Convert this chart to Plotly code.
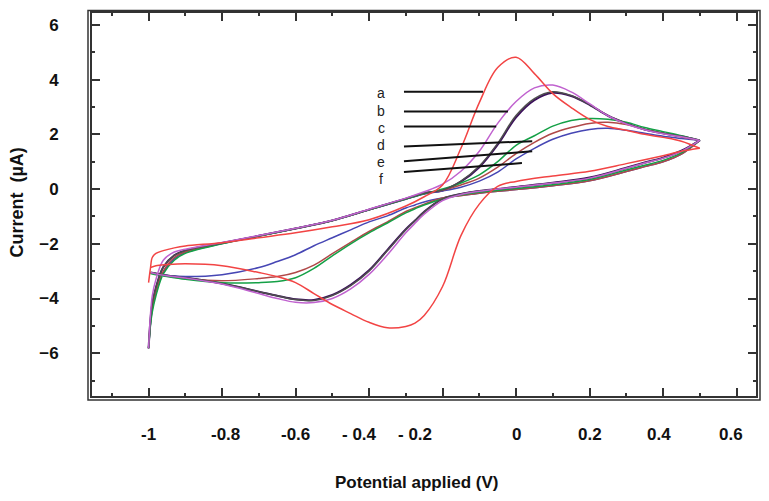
import plotly.graph_objects as go

# Potential grids (V)
potential_fwd = [-1.0, -0.995, -0.99, -0.98, -0.96, -0.93, -0.9, -0.8, -0.7, -0.6, -0.5, -0.4, -0.3,
                 -0.25, -0.2, -0.15, -0.1, -0.05, 0.0, 0.05, 0.1, 0.15, 0.2, 0.25, 0.3, 0.35, 0.4, 0.45, 0.5]
potential_rev = [0.5, 0.45, 0.4, 0.35, 0.3, 0.2, 0.1, 0.0, -0.05, -0.1, -0.15, -0.2, -0.25, -0.275, -0.3,
                 -0.35, -0.4, -0.45, -0.5, -0.55, -0.6, -0.65, -0.7, -0.8, -0.9, -0.95, -0.98, -0.995]

# Currents (uA), forward scan
red_fwd = [-3.42, -2.9, -2.5, -2.35, -2.25, -2.15, -2.08, -1.96, -1.78, -1.6, -1.38, -1.12, -0.62,
           -0.28, 0.15, 1.49, 3.16, 4.44, 4.82, 4.22, 3.49, 2.98, 2.55, 2.29, 2.15, 2.0, 1.89, 1.75, 1.49]
violet_fwd = [-5.82, -4.6, -3.9, -3.3, -2.6, -2.3, -2.2, -1.95, -1.7, -1.43, -1.14, -0.74, -0.33,
              -0.1, 0.18, 0.65, 1.38, 2.4, 3.2, 3.7, 3.8, 3.55, 3.12, 2.68, 2.38, 2.17, 2.02, 1.91, 1.78]
gray_fwd = [-5.82, -4.8, -4.18, -3.6, -2.85, -2.42, -2.25, -1.97, -1.71, -1.44, -1.15, -0.75, -0.35,
            -0.15, -0.04, 0.29, 0.84, 1.67, 2.69, 3.31, 3.56, 3.42, 3.09, 2.69, 2.4, 2.18, 2.04, 1.93, 1.78]
navy_fwd = [-5.82, -4.8, -4.2, -3.6, -2.85, -2.42, -2.24, -1.97, -1.71, -1.44, -1.15, -0.75, -0.35,
            -0.15, -0.05, 0.27, 0.8, 1.62, 2.62, 3.25, 3.52, 3.4, 3.08, 2.68, 2.4, 2.18, 2.04, 1.93, 1.78]
green_fwd = [-5.82, -5.0, -4.5, -3.9, -3.1, -2.6, -2.35, -2.0, -1.72, -1.44, -1.15, -0.76, -0.36,
             -0.17, 0.0, 0.22, 0.52, 1.0, 1.6, 1.95, 2.3, 2.51, 2.58, 2.55, 2.44, 2.25, 2.1, 1.95, 1.78]
brown_fwd = [-5.82, -4.9, -4.35, -3.75, -3.0, -2.5, -2.3, -1.98, -1.72, -1.44, -1.15, -0.76, -0.36,
             -0.16, -0.04, 0.15, 0.4, 0.8, 1.3, 1.71, 2.04, 2.25, 2.4, 2.44, 2.36, 2.18, 2.04, 1.9, 1.78]
blue_fwd = [-5.82, -4.95, -4.4, -3.8, -3.05, -2.55, -2.32, -1.99, -1.72, -1.44, -1.15, -0.76, -0.37,
            -0.18, -0.07, 0.07, 0.29, 0.62, 1.1, 1.49, 1.82, 2.04, 2.18, 2.22, 2.15, 2.04, 1.93, 1.85, 1.78]

# Currents (uA), reverse scan
red_rev = [1.49, 1.38, 1.22, 1.07, 0.93, 0.65, 0.48, 0.28, 0.1, -0.55, -1.7, -3.56, -4.62, -4.9, -5.02,
           -5.07, -4.87, -4.55, -4.22, -3.82, -3.42, -3.2, -3.05, -2.8, -2.73, -2.76, -2.8, -2.87]
violet_rev = [1.78, 1.38, 1.13, 0.95, 0.76, 0.4, 0.22, 0.07, 0.0, -0.08, -0.2, -0.42, -0.92, -1.25, -1.6,
              -2.4, -3.12, -3.65, -4.0, -4.15, -4.14, -4.0, -3.82, -3.47, -3.25, -3.17, -3.1, -3.05]
gray_rev = [1.78, 1.38, 1.13, 0.95, 0.76, 0.4, 0.22, 0.07, 0.0, -0.07, -0.18, -0.36, -0.84, -1.16, -1.49,
            -2.25, -3.0, -3.53, -3.89, -4.07, -4.04, -3.9, -3.75, -3.45, -3.24, -3.16, -3.09, -3.05]
navy_rev = [1.78, 1.4, 1.15, 0.97, 0.78, 0.42, 0.23, 0.08, 0.0, -0.07, -0.18, -0.36, -0.83, -1.15, -1.47,
            -2.22, -2.97, -3.5, -3.87, -4.05, -4.03, -3.9, -3.75, -3.45, -3.24, -3.16, -3.09, -3.05]
green_rev = [1.78, 1.32, 1.05, 0.87, 0.7, 0.35, 0.16, 0.02, -0.05, -0.12, -0.22, -0.36, -0.58, -0.72, -0.87,
             -1.24, -1.6, -2.0, -2.44, -2.9, -3.24, -3.38, -3.42, -3.42, -3.3, -3.2, -3.13, -3.09]
brown_rev = [1.78, 1.28, 1.0, 0.82, 0.64, 0.3, 0.12, -0.02, -0.08, -0.15, -0.24, -0.33, -0.55, -0.68, -0.82,
             -1.2, -1.55, -1.95, -2.36, -2.78, -3.05, -3.2, -3.27, -3.35, -3.27, -3.18, -3.1, -3.06]
blue_rev = [1.78, 1.28, 1.0, 0.82, 0.64, 0.3, 0.12, -0.02, -0.08, -0.15, -0.23, -0.33, -0.47, -0.58, -0.69,
            -0.98, -1.2, -1.49, -1.78, -2.07, -2.4, -2.65, -2.87, -3.13, -3.2, -3.16, -3.1, -3.06]

curves = [
    ("navy", navy_fwd, navy_rev, "#3c0f5c", 2.0),
    ("blue", blue_fwd, blue_rev, "#4646b4", 1.5),
    ("brown", brown_fwd, brown_rev, "#b04848", 1.5),
    ("green", green_fwd, green_rev, "#14a046", 1.5),
    ("gray", gray_fwd, gray_rev, "#4e4e4e", 1.5),
    ("violet", violet_fwd, violet_rev, "#c062cf", 1.5),
    ("red", red_fwd, red_rev, "#f24444", 1.5),
]

# Curve labels and pointer lines
label_letters = ["a", "b", "c", "d", "e", "f"]
label_y = [3.53, 2.84, 2.22, 1.6, 0.98, 0.36]
label_x = -0.367
pointer_x0 = -0.305
pointer_y0 = [3.56, 2.84, 2.29, 1.56, 1.02, 0.62]
pointer_x1 = [-0.09, -0.022, -0.054, 0.044, 0.044, 0.016]
pointer_y1 = [3.56, 2.84, 2.29, 1.75, 1.38, 0.95]

# Axis tick labels (as printed in the figure)
x_tick_text = ["-1", "-0.8", "-0.6", "- 0.4", "- 0.2", "0", "0.2", "0.4", "0.6"]
x_tick_pos = [-1.0, -0.79, -0.6, -0.425, -0.275, 0.0, 0.2, 0.39, 0.585]
y_tick_vals = [-6, -4, -2, 0, 2, 4, 6]

FONT = "Liberation Sans, Arial"

fig = go.Figure()
for name, fwd, rev, color, width in curves:
    fig.add_trace(go.Scatter(
        x=potential_fwd + potential_rev, y=fwd + rev, mode="lines", name=name,
        line=dict(color=color, width=width, shape="spline", smoothing=1.0),
        showlegend=False, hoverinfo="skip"))

PW, PH = 664, 385  # plot area size in px

shapes = []
for y0, x1, y1 in zip(pointer_y0, pointer_x1, pointer_y1):
    shapes.append(dict(type="line", xref="x", yref="y", x0=pointer_x0, y0=y0, x1=x1, y1=y1,
                       line=dict(color="#111111", width=2)))
# outer frame (double border)
shapes.append(dict(type="rect", xref="paper", yref="paper", x0=-4 / PW, x1=1 + 4 / PW,
                   y0=-4 / PH, y1=1 + 2.5 / PH, line=dict(color="#333333", width=1.5)))

annotations = []
for letter, y in zip(label_letters, label_y):
    annotations.append(dict(x=label_x, y=y, xref="x", yref="y", text=letter, showarrow=False,
                            font=dict(family=FONT, size=14, color="#222222")))
for txt, pos in zip(x_tick_text, x_tick_pos):
    annotations.append(dict(x=pos, y=-0.1013, xref="x", yref="paper", text="<b>" + txt + "</b>",
                            showarrow=False, yanchor="middle",
                            font=dict(family=FONT, size=17, color="#111111")))
annotations.append(dict(x=0.488, y=-0.226, xref="paper", yref="paper", text="<b>Potential applied (V)</b>",
                        showarrow=False, yanchor="middle",
                        font=dict(family=FONT, size=17, color="#111111")))
annotations.append(dict(x=-0.113, y=0.505, xref="paper", yref="paper", text="<b>Current  (µA)</b>",
                        showarrow=False, textangle=-90, xanchor="center", yanchor="middle",
                        font=dict(family=FONT, size=18, color="#111111")))

fig.update_layout(
    width=753, height=485,
    margin=dict(l=84, r=5, t=3, b=97),
    paper_bgcolor="white", plot_bgcolor="white",
    shapes=shapes, annotations=annotations,
    xaxis=dict(range=[-1.154, 0.653], showgrid=False, zeroline=False,
               showline=True, linecolor="#333333", linewidth=2, mirror="ticks",
               ticks="inside", tickmode="linear", tick0=-1, dtick=0.2, ticklen=8, tickwidth=1.5,
               tickcolor="#333333", showticklabels=False,
               minor=dict(ticks="inside", dtick=0.1, tick0=-1, ticklen=3, tickwidth=1.5,
                          tickcolor="#333333", showgrid=False)),
    yaxis=dict(range=[-7.564, 6.436], showgrid=False, zeroline=False,
               showline=True, linecolor="#333333", linewidth=2, mirror="ticks",
               ticks="inside", tickvals=y_tick_vals, ticklen=8, tickwidth=1.5, tickcolor="#333333",
               ticklabelstandoff=28,
               tickfont=dict(family=FONT, size=17, color="#111111", weight="bold"),
               minor=dict(ticks="inside", dtick=1, tick0=0, ticklen=3, tickwidth=1.5,
                          tickcolor="#333333", showgrid=False)),
)

fig.write_html("out.html")
